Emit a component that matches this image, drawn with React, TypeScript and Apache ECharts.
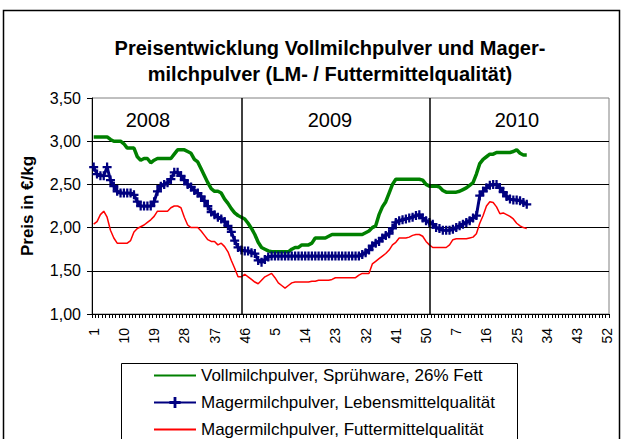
import React, { useEffect, useRef } from "react";
import * as echarts from "echarts";

const weeks2008 = Array.from({ length: 50 }, (_, i) => String(i + 1));
const weeks2009 = Array.from({ length: 52 }, (_, i) => String(i + 1));
const weeks2010 = Array.from({ length: 52 }, (_, i) => String(i + 1));
const categories = [...weeks2008, ...weeks2009, ...weeks2010];

const yearLabels = ["2008", "2009", "2010"];
const yearDividers = [44, 100];

const seriesNames = [
  "Vollmilchpulver, Sprühware, 26% Fett",
  "Magermilchpulver, Lebensmittelqualität",
  "Magermilchpulver, Futtermittelqualität",
];

const vollmilch = [
  3.05, 3.05, 3.05, 3.05, 3.05, 3.02, 3.0, 3.0, 3.0, 2.97,
  2.92, 2.92, 2.92, 2.82, 2.78, 2.8, 2.8, 2.75, 2.78, 2.8,
  2.8, 2.8, 2.8, 2.8, 2.85, 2.9, 2.9, 2.9, 2.88, 2.86,
  2.79, 2.76, 2.68, 2.6, 2.52, 2.45, 2.42, 2.42, 2.4, 2.33,
  2.28, 2.22, 2.17, 2.14, 2.12, 2.1, 2.05, 1.99, 1.92, 1.83,
  1.77, 1.75, 1.73, 1.72, 1.72, 1.72, 1.72, 1.72, 1.72, 1.75,
  1.77, 1.77, 1.8, 1.8, 1.8, 1.82, 1.88, 1.88, 1.88, 1.88,
  1.9, 1.92, 1.92, 1.92, 1.92, 1.92, 1.92, 1.92, 1.92, 1.92,
  1.92, 1.94, 1.96, 2.0, 2.02, 2.15, 2.24, 2.3, 2.4, 2.5,
  2.56, 2.56, 2.56, 2.56, 2.56, 2.56, 2.56, 2.56, 2.55, 2.5,
  2.48, 2.48, 2.48, 2.47, 2.43, 2.41, 2.41, 2.41, 2.41, 2.42,
  2.44, 2.46, 2.49, 2.52, 2.62, 2.74, 2.79, 2.82, 2.85, 2.85,
  2.87, 2.87, 2.87, 2.87, 2.87, 2.88, 2.9, 2.86, 2.84, 2.84,
];

const magerLebensmittel = [
  2.7, 2.62, 2.6, 2.6, 2.7, 2.55, 2.48, 2.42, 2.4, 2.4,
  2.4, 2.4, 2.38, 2.3, 2.25, 2.25, 2.25, 2.25, 2.3, 2.42,
  2.48, 2.5, 2.52, 2.56, 2.64, 2.64, 2.6, 2.55, 2.5, 2.47,
  2.43, 2.4, 2.36, 2.31, 2.25, 2.18, 2.15, 2.12, 2.1, 2.07,
  2.02, 1.95, 1.85, 1.77, 1.74, 1.73, 1.73, 1.71, 1.7, 1.62,
  1.6, 1.63, 1.66, 1.67, 1.67, 1.67, 1.67, 1.67, 1.67, 1.67,
  1.67, 1.67, 1.67, 1.67, 1.67, 1.67, 1.67, 1.67, 1.67, 1.67,
  1.67, 1.67, 1.67, 1.67, 1.67, 1.67, 1.67, 1.67, 1.67, 1.67,
  1.69, 1.71, 1.74, 1.79, 1.82, 1.84, 1.88, 1.91, 1.93, 1.99,
  2.06, 2.08, 2.09, 2.1, 2.11, 2.12, 2.14, 2.15, 2.11, 2.08,
  2.06, 2.04, 2.0, 1.99, 1.97, 1.97, 1.97, 1.98, 2.0, 2.02,
  2.04, 2.06, 2.08, 2.11, 2.14, 2.37, 2.42, 2.46, 2.49, 2.5,
  2.5, 2.46, 2.41, 2.36, 2.33, 2.32, 2.32, 2.31, 2.29, 2.27,
];

const magerFuttermittel = [
  2.04, 2.07, 2.15, 2.19, 2.12, 1.97, 1.88, 1.82, 1.82, 1.82,
  1.82, 1.85, 1.95, 1.99, 2.01, 2.03, 2.06, 2.09, 2.13, 2.19,
  2.19, 2.19, 2.19, 2.23, 2.25, 2.25, 2.23, 2.12, 2.03, 2.0,
  2.0, 2.0, 1.96, 1.91, 1.86, 1.84, 1.84, 1.8, 1.82, 1.78,
  1.72, 1.62, 1.53, 1.43, 1.43, 1.46, 1.43, 1.4, 1.37, 1.35,
  1.39, 1.43, 1.45, 1.47, 1.42, 1.36, 1.33, 1.3, 1.33, 1.36,
  1.37, 1.37, 1.37, 1.37, 1.37, 1.38, 1.38, 1.39, 1.39, 1.39,
  1.39, 1.4, 1.42, 1.42, 1.42, 1.42, 1.42, 1.42, 1.42, 1.45,
  1.47, 1.47, 1.47, 1.58, 1.61, 1.64, 1.67, 1.7, 1.74, 1.8,
  1.83, 1.88, 1.88, 1.88, 1.89, 1.91, 1.92, 1.92, 1.9, 1.84,
  1.8, 1.77, 1.77, 1.77, 1.77, 1.77, 1.8, 1.86, 1.87, 1.87,
  1.87, 1.87, 1.88, 1.89, 1.93, 2.05, 2.14, 2.25, 2.3, 2.29,
  2.24, 2.16, 2.17, 2.15, 2.13, 2.1, 2.05, 2.02, 2.0, 1.99,
];

const FONT = "Liberation Sans, Arial, sans-serif";
const PLUS =
  "path://M3.75,0 L6.25,0 L6.25,3.75 L10,3.75 L10,6.25 L6.25,6.25 L6.25,10 L3.75,10 L3.75,6.25 L0,6.25 L0,3.75 L3.75,3.75 Z";

export default function App() {
  const ref = useRef<HTMLDivElement>(null);

  useEffect(() => {
    if (!ref.current) return;
    const chart = echarts.init(ref.current, null, { renderer: "svg" });
    const yearText = (i: number, x: number) => ({
      type: "text",
      x,
      y: 120,
      style: {
        text: yearLabels[i],
        font: `20px ${FONT}`,
        fill: "#000",
        textAlign: "center",
        textVerticalAlign: "middle",
      },
    });
    const option: any = {
      animation: false,
      backgroundColor: "#ffffff",
      textStyle: { fontFamily: FONT, color: "#000" },
      title: {
        text: "Preisentwicklung Vollmilchpulver und Mager-\nmilchpulver (LM- / Futtermittelqualität)",
        left: 330,
        top: 35,
        textAlign: "center",
        padding: 0,
        textStyle: {
          fontFamily: FONT,
          fontSize: 20,
          fontWeight: "bold",
          color: "#000",
          lineHeight: 26,
        },
      },
      grid: {
        left: 92,
        top: 98,
        width: 517,
        height: 216,
        show: true,
        borderColor: "#808080",
        borderWidth: 1,
        backgroundColor: "transparent",
        containLabel: false,
      },
      legend: {
        orient: "vertical",
        left: 153,
        top: 367,
        padding: 0,
        itemWidth: 42,
        itemHeight: 14,
        itemGap: 10,
        textStyle: { fontFamily: FONT, fontSize: 17, color: "#000", lineHeight: 17 },
        data: [
          { name: seriesNames[0], itemStyle: { opacity: 0 } },
          { name: seriesNames[1] },
          { name: seriesNames[2], itemStyle: { opacity: 0 } },
        ],
      },
      xAxis: {
        type: "category",
        data: categories,
        boundaryGap: true,
        axisLine: { lineStyle: { color: "#000", width: 1 } },
        axisTick: { show: true, interval: 0, length: 4, lineStyle: { color: "#000" } },
        axisLabel: {
          interval: 8,
          rotate: 90,
          margin: 14,
          fontFamily: FONT,
          fontSize: 14,
          color: "#000",
        },
        splitLine: { show: false },
      },
      yAxis: {
        type: "value",
        min: 1,
        max: 3.5,
        interval: 0.5,
        name: "Preis in €/kg",
        nameLocation: "middle",
        nameGap: 56,
        nameTextStyle: { fontFamily: FONT, fontSize: 17, fontWeight: "bold", color: "#000" },
        axisLine: { show: true, lineStyle: { color: "#000", width: 1 } },
        axisTick: { show: true, length: 5, lineStyle: { color: "#000" } },
        axisLabel: {
          margin: 11,
          fontFamily: FONT,
          fontSize: 16,
          color: "#000",
          formatter: (v: number) => v.toFixed(2).replace(".", ","),
        },
        splitLine: {
          show: true,
          showMinLine: false,
          showMaxLine: false,
          lineStyle: { color: "#000", width: 1 },
        },
      },
      graphic: [
        {
          type: "rect",
          shape: { x: 3.5, y: 10.5, width: 616, height: 440 },
          style: { fill: "none", stroke: "#000", lineWidth: 1.5 },
          silent: true,
        },
        {
          type: "rect",
          shape: { x: 121.5, y: 363.5, width: 396, height: 100 },
          style: { fill: "none", stroke: "#000", lineWidth: 1 },
          silent: true,
        },
        yearText(0, 148),
        yearText(1, 330),
        yearText(2, 517),
      ],
      series: [
        {
          name: seriesNames[0],
          type: "line",
          data: vollmilch,
          symbol: "none",
          lineStyle: { color: "#008000", width: 3.5 },
          itemStyle: { color: "#008000" },
          z: 2,
          markLine: {
            silent: true,
            symbol: ["none", "none"],
            label: { show: false },
            lineStyle: { color: "#000", width: 1.5, type: "solid" },
            data: yearDividers.map((d) => ({ xAxis: d })),
          },
        },
        {
          name: seriesNames[1],
          type: "line",
          data: magerLebensmittel,
          symbol: PLUS,
          symbolSize: 9,
          showAllSymbol: true,
          lineStyle: { color: "#000080", width: 3 },
          itemStyle: { color: "#000080" },
          z: 3,
        },
        {
          name: seriesNames[2],
          type: "line",
          data: magerFuttermittel,
          symbol: "none",
          lineStyle: { color: "#ff0000", width: 1.5 },
          itemStyle: { color: "#ff0000" },
          z: 4,
        },
      ],
    };
    chart.setOption(option);
    return () => chart.dispose();
  }, []);

  return (
    <div
      ref={ref}
      style={{ position: "absolute", left: 0, top: 0, width: 624, height: 439 }}
    />
  );
}
